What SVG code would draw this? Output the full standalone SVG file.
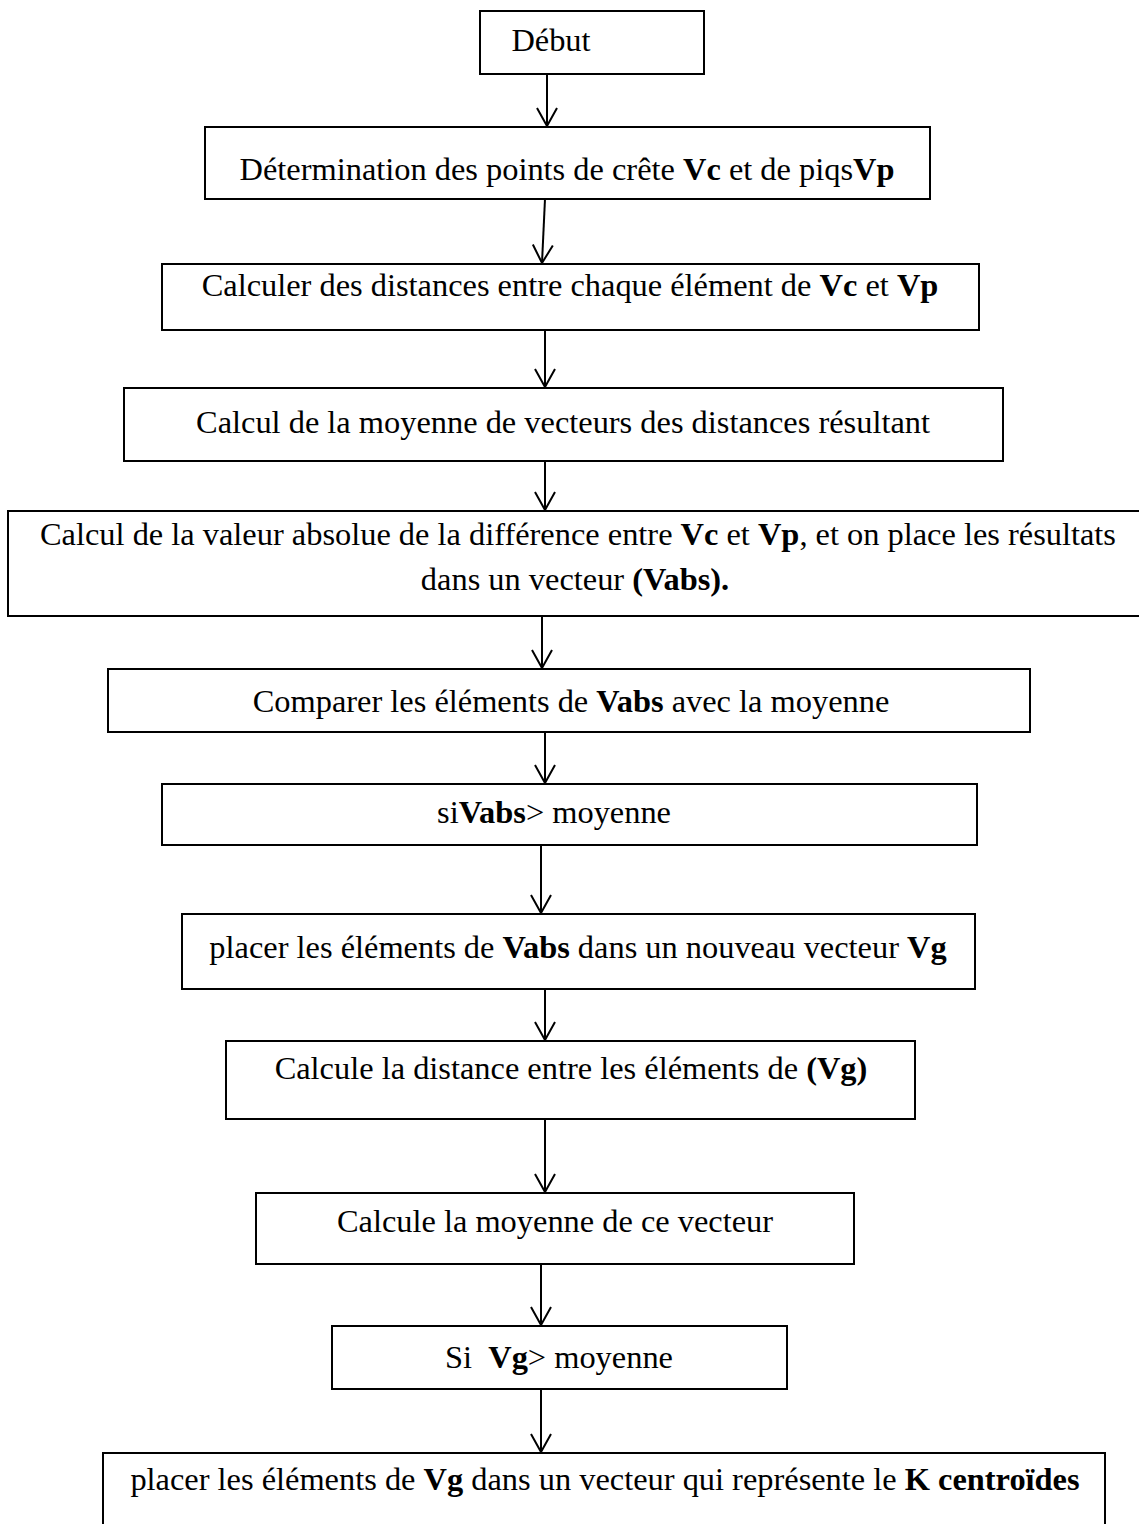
<svg xmlns="http://www.w3.org/2000/svg" width="1139" height="1524" viewBox="0 0 1139 1524">
  <defs>
    <style>
      .box { fill: #fff; stroke: #000; stroke-width: 2; }
      .lbl { font-family: "Liberation Serif", "Times New Roman", serif; font-size: 32.4px; fill: #000; text-anchor: middle; }
      .b { font-weight: bold; }
      .conn { stroke: #000; stroke-width: 2; fill: none; marker-end: url(#head); }
    </style>
    <marker id="head" viewBox="-20 -12 22 24" markerWidth="22" markerHeight="24" refX="0" refY="0" orient="auto" markerUnits="userSpaceOnUse">
      <path d="M-18,-10 L0,0 L-18,10" fill="none" stroke="#000" stroke-width="2"/>
    </marker>
  </defs>
  <rect width="1139" height="1524" fill="#fff"/>

  <!-- flow connectors -->
  <g id="connectors">
    <line class="conn" x1="547" y1="74" x2="547" y2="126"/>
    <line class="conn" x1="545" y1="199" x2="542" y2="263"/>
    <line class="conn" x1="545" y1="330" x2="545" y2="387"/>
    <line class="conn" x1="545" y1="461" x2="545" y2="510"/>
    <line class="conn" x1="542" y1="616" x2="542" y2="668"/>
    <line class="conn" x1="545" y1="732" x2="545" y2="783"/>
    <line class="conn" x1="541" y1="845" x2="541" y2="913"/>
    <line class="conn" x1="545" y1="989" x2="545" y2="1040"/>
    <line class="conn" x1="545" y1="1119" x2="545" y2="1192"/>
    <line class="conn" x1="541" y1="1264" x2="541" y2="1325"/>
    <line class="conn" x1="541" y1="1389" x2="541" y2="1452"/>
  </g>

  <g id="n-debut">
    <rect class="box" x="480" y="11" width="224" height="63"/>
    <text class="lbl" x="551" y="51">Début</text>
  </g>

  <g id="n-crete">
    <rect class="box" x="205" y="127" width="725" height="72"/>
    <text class="lbl" x="567" y="180">Détermination des points de crête <tspan class="b">Vc</tspan> et de piqs<tspan class="b">Vp</tspan></text>
  </g>

  <g id="n-distances">
    <rect class="box" x="162" y="264" width="817" height="66"/>
    <text class="lbl" x="570" y="296">Calculer des distances entre chaque élément de <tspan class="b">Vc</tspan> et <tspan class="b">Vp</tspan></text>
  </g>

  <g id="n-moyenne">
    <rect class="box" x="124" y="388" width="879" height="73"/>
    <text class="lbl" x="563" y="433">Calcul de la moyenne de vecteurs des distances résultant</text>
  </g>

  <g id="n-vabs">
    <rect class="box" x="8" y="511" width="1140" height="105"/>
    <text class="lbl" x="578" y="545">Calcul de la valeur absolue de la différence entre <tspan class="b">Vc</tspan> et <tspan class="b">Vp</tspan>, et on place les résultats</text>
    <text class="lbl" x="575" y="590">dans un vecteur <tspan class="b">(Vabs).</tspan></text>
  </g>

  <g id="n-comparer">
    <rect class="box" x="108" y="669" width="922" height="63"/>
    <text class="lbl" x="571" y="712">Comparer les éléments de <tspan class="b">Vabs</tspan> avec la moyenne</text>
  </g>

  <g id="n-si-vabs">
    <rect class="box" x="162" y="784" width="815" height="61"/>
    <text class="lbl" x="554" y="823">si<tspan class="b">Vabs</tspan>&gt; moyenne</text>
  </g>

  <g id="n-vg">
    <rect class="box" x="182" y="914" width="793" height="75"/>
    <text class="lbl" x="578" y="958">placer les éléments de <tspan class="b">Vabs</tspan> dans un nouveau vecteur <tspan class="b">Vg</tspan></text>
  </g>

  <g id="n-dist-vg">
    <rect class="box" x="226" y="1041" width="689" height="78"/>
    <text class="lbl" x="571" y="1079">Calcule la distance entre les éléments de <tspan class="b">(Vg)</tspan></text>
  </g>

  <g id="n-moy-vect">
    <rect class="box" x="256" y="1193" width="598" height="71"/>
    <text class="lbl" x="555" y="1232">Calcule la moyenne de ce vecteur</text>
  </g>

  <g id="n-si-vg">
    <rect class="box" x="332" y="1326" width="455" height="63"/>
    <text class="lbl" x="559" y="1368" xml:space="preserve">Si  <tspan class="b">Vg</tspan>&gt; moyenne</text>
  </g>

  <g id="n-centroides">
    <rect class="box" x="103" y="1453" width="1002" height="80"/>
    <text class="lbl" x="605" y="1490">placer les éléments de <tspan class="b">Vg</tspan> dans un vecteur qui représente le <tspan class="b">K centroïdes</tspan></text>
  </g>
</svg>
